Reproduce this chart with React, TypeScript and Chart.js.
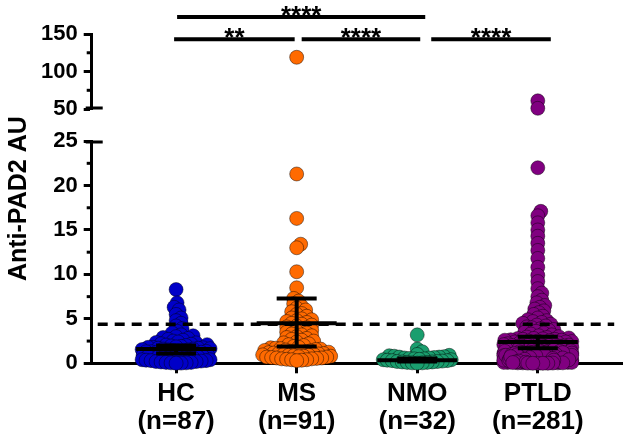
import React, { useEffect, useRef } from 'react';
import { Chart, registerables } from 'chart.js';

Chart.register(...registerables);

const FONT = '"Liberation Sans", Arial, Helvetica, sans-serif';

const CATEGORIES = ['HC', 'MS', 'NMO', 'PTLD'];
const GROUP_N = ['(n=87)', '(n=91)', '(n=32)', '(n=281)'];
const COLORS = ['#0000C8', '#FF6A00', '#1A9E6E', '#800080'];

const HC_VALUES = [
  8.3, 6.8, 6.3, 6.0, 5.5, 5.1, 4.8, 4.5, 4.2, 3.9, 3.6, 3.4, 3.2, 3.1, 3.0, 2.9, 2.8, 2.7, 2.6, 2.5, 2.4, 2.35, 2.3, 2.2,
  2.15, 2.1, 2.05, 2.0, 1.95, 1.9, 1.85, 1.8, 1.8, 1.75, 1.7, 1.7, 1.65, 1.6, 1.6, 1.55, 1.5, 1.5, 1.45, 1.4, 1.4, 1.35, 1.3, 1.3, 1.25, 1.2,
  1.15, 1.1, 1.1, 1.05, 1.0, 1.0, 0.95, 0.9, 0.9, 0.85, 0.8, 0.8, 0.75, 0.7, 0.7, 0.65, 0.6, 0.6, 0.55, 0.5, 0.5, 0.45, 0.4, 0.4, 0.35,
  0.3, 0.3, 0.25, 0.2, 0.2, 0.15, 0.1, 0.1, 0.05, 0.05, 0.02, 0.01,
];

const MS_VALUES = [
  119,
  21.3, 16.3, 13.4, 13.0, 10.3, 8.5, 7.3, 7.0, 6.7, 6.4, 6.2, 6.0, 5.8, 5.6, 5.5, 5.3, 5.1, 5.0, 4.9, 4.8, 4.7, 4.6, 4.5, 4.4, 4.3,
  4.2, 4.1, 4.0, 3.9, 3.8, 3.7, 3.6, 3.5, 3.4, 3.3, 3.2, 3.1, 3.0, 2.9, 2.8, 2.7, 2.6, 2.5, 2.4, 2.3, 2.2, 2.1, 2.0, 1.9,
  1.8, 1.75, 1.7, 1.65, 1.6, 1.55, 1.5, 1.45, 1.4, 1.35, 1.3, 1.3, 1.25, 1.2, 1.2, 1.15, 1.1, 1.1, 1.05, 1.0, 1.0, 0.95, 0.9, 0.9,
  0.85, 0.8, 0.8, 0.75, 0.7, 0.7, 0.65, 0.6, 0.6, 0.55, 0.5, 0.5, 0.45, 0.4, 0.4, 0.35, 0.3,
];

const NMO_VALUES = [
  3.2, 1.6, 1.3, 1.0, 0.9, 0.85, 0.8, 0.75, 0.7, 0.7, 0.65, 0.6, 0.6, 0.55, 0.5, 0.5, 0.45, 0.4, 0.4, 0.35, 0.3, 0.3,
  0.25, 0.2, 0.2, 0.15, 0.15, 0.1, 0.1, 0.05, 0.05, 0.02,
];

const PTLD_VALUES = [
  61, 51,
  22.0, 17.1, 16.6, 15.8, 15.0, 14.3, 13.5, 12.7, 11.8, 10.8, 9.9, 9.2, 8.4, 7.9, 7.5, 7.1, 6.8, 6.5, 6.3, 6.1, 5.9, 5.7, 5.5,
  5.3, 5.1, 4.9, 4.8, 4.7, 4.6, 4.5, 4.4, 4.3, 4.2, 4.1, 4.0, 3.9, 3.8, 3.7, 3.6, 3.5, 3.4, 3.3, 3.2, 3.1, 3.0,
  2.95, 2.9, 2.85, 2.8, 2.8, 2.75, 2.7, 2.7, 2.65, 2.6, 2.6, 2.55, 2.5, 2.5, 2.45, 2.4, 2.4, 2.35, 2.3, 2.3,
  2.25, 2.2, 2.2, 2.15, 2.1, 2.1, 2.05, 2.0, 2.0, 2.0, 1.95, 1.9, 1.9, 1.9, 1.85, 1.8, 1.8, 1.8, 1.75, 1.7,
  1.7, 1.7, 1.65, 1.6, 1.6, 1.6, 1.55, 1.5, 1.5, 1.5, 1.5, 1.45, 1.4, 1.4, 1.4, 1.4, 1.35, 1.3, 1.3, 1.3,
  1.3, 1.25, 1.2, 1.2, 1.2, 1.2, 1.2, 1.15, 1.1, 1.1, 1.1, 1.1, 1.1, 1.05, 1.0, 1.0, 1.0, 1.0, 1.0, 0.95,
  0.9, 0.9, 0.9, 0.9, 0.9, 0.85, 0.8, 0.8, 0.8, 0.8, 0.8, 0.75, 0.7, 0.7, 0.7, 0.7, 0.7, 0.65, 0.6, 0.6,
  0.6, 0.6, 0.6, 0.55, 0.5, 0.5, 0.5, 0.5, 0.5, 0.5, 0.45, 0.4, 0.4, 0.4, 0.4, 0.4, 0.4, 0.35, 0.3, 0.3,
  0.3, 0.3, 0.3, 0.3, 0.25, 0.2, 0.2, 0.2, 0.2, 0.2, 0.2, 0.15, 0.1, 0.1, 0.1, 0.1, 0.1, 0.1, 0.05, 0.05,
  2.0, 1.9, 1.8, 1.7, 1.6, 1.5, 1.45, 1.35, 1.25, 1.15,
  1.05, 0.95, 0.85, 0.75, 0.65, 0.55, 0.45, 0.35, 0.25, 0.15,
  1.4, 1.3, 1.2, 1.1, 1.0, 0.9, 0.8, 0.7, 0.6, 0.5,
  0.4, 0.3, 0.2, 0.1, 1.35, 1.25, 1.15, 1.05, 0.95, 0.85,
  0.75, 0.65, 0.55, 0.45, 0.35, 0.25, 0.15, 0.05, 1.2, 1.1,
  1.0, 0.9, 0.8, 0.7, 0.6, 0.5, 0.4, 0.3, 0.2, 0.1,
  1.3, 1.2, 1.1, 1.0, 0.9, 0.8, 0.7, 0.6, 0.5, 0.4,
  0.3, 0.2, 0.1, 0.05, 1.25, 1.15, 1.05, 0.95, 0.85, 0.75,
  0.65, 0.55, 0.45, 0.35, 0.25, 0.15, 0.12, 0.08, 0.03, 0.02, 0.01, 0.0, 0.0, 0.0,
];

const GROUP_VALUES = [HC_VALUES, MS_VALUES, NMO_VALUES, PTLD_VALUES];

const MEDIAN = [1.6, 4.5, 0.35, 2.4];
const Q1 = [1.1, 1.9, 0.2, 1.7];
const Q3 = [2.0, 7.3, 0.55, 3.0];
const CUTOFF = 4.4;

const Y_LOW_TICKS = [0, 5, 10, 15, 20, 25];
const Y_HIGH_TICKS = [50, 100, 150];

const SIG_FROM = [0, 1, 2, 0];
const SIG_TO = [1, 2, 3, 2];
const SIG_LABEL = ['**', '****', '****', '****'];
const SIG_LEVEL = [143, 143, 143, 172.5];

// drawing / style settings
const SIG_SHIFT_PX = [[-2, -2], [5, 3], [14, 13], [1, 8]];
const MEDIAN_HALF_PX = 40;
const CAP_HALF_PX = 20;
const SWARM_D = 5;
const SWARM_MAX_HALF = 34;

function swarm(ys: number[]): number[] {
  const order = ys.map((_, i) => i).sort((a, b) => ys[b] - ys[a]);
  const placed: { x: number; y: number }[] = [];
  const out = new Array(ys.length).fill(0);
  const cands: number[] = [0];
  for (let k = 1; k <= SWARM_MAX_HALF; k++) cands.push(k, -k);
  for (const i of order) {
    const y = ys[i];
    const near = placed.filter((p) => Math.abs(p.y - y) < SWARM_D);
    let chosen: number | null = null;
    let bestX = 0;
    let bestD = -1;
    for (const c of cands) {
      let minD = Infinity;
      for (const p of near) {
        const dd = Math.hypot(p.x - c, p.y - y);
        if (dd < minD) minD = dd;
      }
      if (minD >= SWARM_D) {
        chosen = c;
        break;
      }
      if (minD > bestD + 1e-9) {
        bestD = minD;
        bestX = c;
      }
    }
    const x = chosen === null ? bestX : chosen;
    out[i] = x;
    placed.push({ x, y });
  }
  return out;
}

const overlayPlugin = {
  id: 'overlay',
  afterDatasetsDraw(chart: any) {
    const { ctx } = chart;
    const sx = chart.scales.x;
    const sLow = chart.scales.yLow;
    ctx.save();
    ctx.strokeStyle = '#000';
    ctx.lineWidth = 3.5;
    ctx.setLineDash([10, 7]);
    const yCut = sLow.getPixelForValue(CUTOFF);
    ctx.beginPath();
    ctx.moveTo(sx.left + 6, yCut);
    ctx.lineTo(sx.right - 8, yCut);
    ctx.stroke();
    ctx.setLineDash([]);
    ctx.lineWidth = 4;
    CATEGORIES.forEach((_, i) => {
      const cx = sx.getPixelForValue(i);
      const yM = sLow.getPixelForValue(MEDIAN[i]);
      const y1 = sLow.getPixelForValue(Q1[i]);
      const y3 = sLow.getPixelForValue(Q3[i]);
      ctx.beginPath();
      ctx.moveTo(cx - MEDIAN_HALF_PX, yM);
      ctx.lineTo(cx + MEDIAN_HALF_PX, yM);
      ctx.moveTo(cx - CAP_HALF_PX, y1);
      ctx.lineTo(cx + CAP_HALF_PX, y1);
      ctx.moveTo(cx - CAP_HALF_PX, y3);
      ctx.lineTo(cx + CAP_HALF_PX, y3);
      ctx.moveTo(cx, y1);
      ctx.lineTo(cx, y3);
      ctx.stroke();
    });
    ctx.restore();
  },
  afterDraw(chart: any) {
    const { ctx } = chart;
    const sx = chart.scales.x;
    const sLow = chart.scales.yLow;
    const sHigh = chart.scales.yHigh;
    ctx.save();
    ctx.strokeStyle = '#000';
    ctx.fillStyle = '#000';
    // minor ticks
    ctx.lineWidth = 3;
    const minor = (scale: any, ticks: number[]) => {
      for (let k = 0; k < ticks.length - 1; k++) {
        const v = (ticks[k] + ticks[k + 1]) / 2;
        const y = scale.getPixelForValue(v);
        ctx.beginPath();
        ctx.moveTo(scale.right - 5, y);
        ctx.lineTo(scale.right, y);
        ctx.stroke();
      }
    };
    minor(sLow, Y_LOW_TICKS);
    minor(sHigh, Y_HIGH_TICKS);
    // axis break marks
    ctx.beginPath();
    ctx.moveTo(sLow.right - 6, sLow.top + 1);
    ctx.lineTo(sLow.right + 11, sLow.top + 1);
    ctx.moveTo(sHigh.right - 6, sHigh.bottom - 1);
    ctx.lineTo(sHigh.right + 11, sHigh.bottom - 1);
    ctx.stroke();
    // significance brackets
    ctx.lineWidth = 4;
    ctx.font = 'bold 26px ' + FONT;
    ctx.textAlign = 'center';
    ctx.textBaseline = 'alphabetic';
    SIG_LABEL.forEach((label, k) => {
      const x0 = sx.getPixelForValue(SIG_FROM[k]) + SIG_SHIFT_PX[k][0];
      const x1 = sx.getPixelForValue(SIG_TO[k]) + SIG_SHIFT_PX[k][1];
      const y = sHigh.getPixelForValue(SIG_LEVEL[k]);
      ctx.beginPath();
      ctx.moveTo(x0, y);
      ctx.lineTo(x1, y);
      ctx.stroke();
      ctx.fillText(label, (x0 + x1) / 2, y + 7);
    });
    ctx.restore();
  },
};

const axisCommon = {
  type: 'linear' as const,
  position: 'left' as const,
  stack: 'y',
  grid: { drawOnChartArea: false, drawTicks: true, tickLength: 8, tickWidth: 3, color: '#000' },
  border: { display: true, width: 3, color: '#000' },
  ticks: {
    color: '#000',
    padding: 6,
    autoSkip: false,
    font: { family: FONT, size: 22, weight: 'bold' as const },
  },
};

export default function App() {
  const ref = useRef<HTMLCanvasElement | null>(null);
  useEffect(() => {
    if (!ref.current) return;
    const datasets: any[] = [];
    const lowSets: any[] = [];
    const highSets: any[] = [];
    GROUP_VALUES.forEach((vals, g) => {
      const common = {
        type: 'scatter',
        backgroundColor: COLORS[g],
        borderColor: 'rgba(0,0,0,0.55)',
        borderWidth: 0.8,
        pointRadius: 7,
        pointHoverRadius: 7,
        clip: false,
        xAxisID: 'x',
      };
      lowSets.push({ ...common, yAxisID: 'yLow', data: vals.filter((v) => v <= 25).map((v) => ({ x: g, y: v })) });
      highSets.push({ ...common, yAxisID: 'yHigh', data: vals.filter((v) => v >= 50).map((v) => ({ x: g, y: v })) });
    });
    datasets.push(...lowSets, ...highSets);

    const chart = new Chart(ref.current, {
      type: 'scatter',
      data: { datasets },
      options: {
        responsive: false,
        animation: false,
        events: [],
        layout: { padding: { top: 34, right: 5, bottom: 1.5, left: 0 } },
        plugins: { legend: { display: false }, tooltip: { enabled: false } },
        scales: {
          x: {
            type: 'linear',
            position: 'bottom',
            min: -0.7,
            max: 3.7,
            afterBuildTicks: (s: any) => {
              s.ticks = CATEGORIES.map((_, i) => ({ value: i }));
            },
            grid: { drawOnChartArea: false, drawTicks: true, tickLength: 10, tickWidth: 3, color: '#000' },
            border: { display: true, width: 3, color: '#000' },
            ticks: {
              color: '#000',
              padding: 6,
              autoSkip: false,
              maxRotation: 0,
              minRotation: 0,
              font: { family: FONT, size: 26, weight: 'bold', lineHeight: 1.1 },
              callback: (v: any) => {
                const i = Math.round(Number(v));
                return [CATEGORIES[i], GROUP_N[i]];
              },
            },
          },
          yTitle: {
            type: 'linear',
            position: 'left',
            weight: 10,
            grid: { display: false, drawTicks: false },
            border: { display: false },
            ticks: { display: false },
            title: {
              display: true,
              text: 'Anti-PAD2 AU',
              color: '#000',
              padding: { top: 4, bottom: 1 },
              font: { family: FONT, size: 25, weight: 'bold' },
            },
          },
          yHigh: {
            ...axisCommon,
            weight: 3,
            stackWeight: 75,
            min: 50,
            max: 150,
            afterBuildTicks: (s: any) => {
              s.ticks = Y_HIGH_TICKS.map((v) => ({ value: v }));
            },
          },
          yGap: {
            type: 'linear',
            position: 'left',
            stack: 'y',
            weight: 2,
            stackWeight: 32,
            display: false,
          },
          yLow: {
            ...axisCommon,
            weight: 1,
            stackWeight: 222,
            min: 0,
            max: 25,
            afterBuildTicks: (s: any) => {
              s.ticks = Y_LOW_TICKS.map((v) => ({ value: v }));
            },
          },
        },
      } as any,
      plugins: [overlayPlugin],
    });

    // beeswarm layout computed through the chart's own scales
    const sx: any = chart.scales.x;
    const pxPerX = sx.getPixelForValue(1) - sx.getPixelForValue(0);
    GROUP_VALUES.forEach((vals, g) => {
      const low = vals.filter((v) => v <= 25);
      const high = vals.filter((v) => v >= 50);
      const lowOff = swarm(low.map((v) => (chart.scales.yLow as any).getPixelForValue(v)));
      const highOff = swarm(high.map((v) => (chart.scales.yHigh as any).getPixelForValue(v)));
      (chart.data.datasets[g] as any).data = low.map((v, i) => ({ x: g + lowOff[i] / pxPerX, y: v }));
      (chart.data.datasets[4 + g] as any).data = high.map((v, i) => ({ x: g + highOff[i] / pxPerX, y: v }));
    });
    chart.update();

    return () => chart.destroy();
  }, []);

  return (
    <div style={{ position: 'fixed', left: 0, top: 0, width: 630, height: 444, background: '#fff' }}>
      <canvas ref={ref} width={630} height={444} style={{ display: 'block' }} />
    </div>
  );
}
